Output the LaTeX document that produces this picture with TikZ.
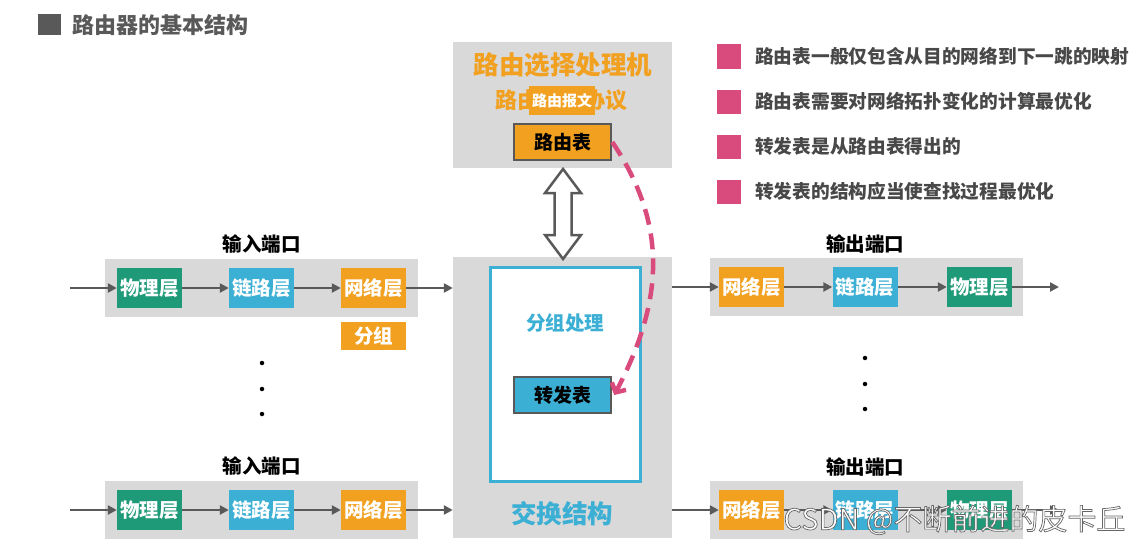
\documentclass[tikz,border=0pt]{standalone}
\usepackage{fontspec}
\setmainfont{Noto Sans CJK SC}
\usetikzlibrary{arrows.meta,positioning}

\definecolor{layergreen}{HTML}{1F9A78}
\definecolor{layercyan}{HTML}{3BAFD4}
\definecolor{layerorange}{HTML}{F2A01F}
\definecolor{boxgray}{HTML}{D9D9D9}
\definecolor{linegray}{HTML}{595959}
\definecolor{notepink}{HTML}{D94B7D}
\definecolor{textgray}{HTML}{484848}

\tikzset{
  portbox/.style={fill=boxgray, minimum width=313pt, minimum height=58pt, inner sep=0pt},
  layer/.style={minimum width=65pt, minimum height=40pt, inner sep=0pt, text=white,
    font=\bfseries\fontsize{19.5}{20}\selectfont},
  phy/.style={layer, fill=layergreen},
  lnk/.style={layer, fill=layercyan},
  net/.style={layer, fill=layerorange},
  flow/.style={draw=linegray, line width=2.5pt, -{Triangle[length=9pt,width=9pt]}},
  portlabel/.style={text=black, font=\bfseries\fontsize{19.5}{20}\selectfont},
  tablebox/.style={draw=linegray, line width=2.5pt, minimum width=97pt, minimum height=36pt,
    inner sep=0pt, text=black, font=\bfseries\fontsize{19}{20}\selectfont},
  note/.style={anchor=west, inner sep=0pt, text=textgray, font=\bfseries\fontsize{18.7}{20}\selectfont},
  bullet/.style={fill=notepink, minimum size=24pt, inner sep=0pt},
  dot/.style={circle, fill=black, inner sep=0pt, minimum size=4.5pt},
}

\begin{document}
\begin{tikzpicture}[x=1pt,y=-1pt]
  \useasboundingbox (0,0) rectangle (1147,543);

  % title
  \node[fill=linegray, minimum width=23pt, minimum height=21pt, inner sep=0pt] (tsq) at (49.5,24.5) {};
  \node[anchor=west, inner sep=0pt, text=linegray, font=\bfseries\fontsize{22}{24}\selectfont] (title) at (72,25) {路由器的基本结构};

  % routing processor
  \node[fill=boxgray, minimum width=219pt, minimum height=126pt, inner sep=0pt] (rp) at (562.5,105) {};
  \node[text=layerorange, font=\bfseries\fontsize{25.5}{26}\selectfont] (rptitle) at (563,65) {路由选择处理机};
  \node[text=layerorange, font=\bfseries\fontsize{22}{24}\selectfont] (proto) at (561.5,100) {路由选择协议};
  \node[fill=layerorange, minimum width=66pt, minimum height=29pt, inner sep=0pt, text=white,
    font=\bfseries\fontsize{15}{16}\selectfont] (msg) at (562,100.5) {路由报文};
  \node[tablebox, fill=layerorange] (rtable) at (562.5,142) {路由表};

  % switch fabric
  \node[fill=boxgray, minimum width=219pt, minimum height=281pt, inner sep=0pt] (sw) at (562.5,397.5) {};
  \node[draw=layercyan, fill=white, line width=2.5pt, minimum width=150pt, minimum height=214pt,
    inner sep=0pt] (proc) at (565.5,374.5) {};
  \node[text=layercyan, font=\bfseries\fontsize{19.5}{20}\selectfont] (proctitle) at (565,323) {分组处理};
  \node[tablebox, fill=layercyan] (ftable) at (562.5,395) {转发表};
  \node[text=layercyan, font=\bfseries\fontsize{25.5}{26}\selectfont] (swtitle) at (562,514) {交换结构};

  % link between processor and fabric
  \draw[draw=linegray, fill=white, line width=2.5pt, line join=miter]
    (563,169) -- (581,193) -- (571.5,193) -- (571.5,235) -- (581,235) -- (563,259)
    -- (545,235) -- (554.5,235) -- (554.5,193) -- (545,193) -- cycle;

  % input ports
  \foreach \r/\y in {1/288,2/510}{
    \node[portbox] (inport\r) at (261.5,\y) {};
    \node[portlabel] (inlabel\r) at (261.5,\y-44) {输入端口};
    \node[phy] (inphy\r) at (149.5,\y) {物理层};
    \node[lnk] (inlnk\r) at (261.5,\y) {链路层};
    \node[net] (innet\r) at (373.5,\y) {网络层};
    \coordinate (insrc\r) at (70,\y);
    \draw[flow] (insrc\r) -- (inphy\r);
    \draw[flow] (inphy\r) -- (inlnk\r);
    \draw[flow] (inlnk\r) -- (innet\r);
    \draw[flow] (innet\r) -- (innet\r -| sw.west);
  }
  \node[net, minimum height=28pt] (pkt) at (373.5,336) {分组};

  % output ports
  \foreach \r/\y in {1/287,2/510}{
    \node[portbox] (outport\r) at (866.5,\y) {};
    \node[portlabel] (outlabel\r) at (865,\y-43) {输出端口};
    \node[net] (outnet\r) at (751.5,\y) {网络层};
    \node[lnk] (outlnk\r) at (865,\y) {链路层};
    \node[phy] (outphy\r) at (979.5,\y) {物理层};
    \coordinate (outdst\r) at (1059,\y);
    \draw[flow] (outnet\r -| sw.east) -- (outnet\r);
    \draw[flow] (outnet\r) -- (outlnk\r);
    \draw[flow] (outlnk\r) -- (outphy\r);
    \draw[flow] (outphy\r) -- (outdst\r);
  }

  % dots
  \foreach \d in {363,389,414} \node[dot] at (262,\d) {};
  \foreach \d in {358,384,409} \node[dot] at (865,\d) {};

  % routing table -> forwarding table
  \draw[notepink, line width=4.5pt, dash pattern=on 16pt off 9pt,
    -{Straight Barb[length=7pt,width=16pt]}]
    (rtable.east) .. controls (668,225) and (664,300) .. ([xshift=2pt]ftable.east);

  % notes
  \foreach \i/\t in {0/路由表一般仅包含从目的网络到下一跳的映射,
                     1/路由表需要对网络拓扑变化的计算最优化,
                     2/转发表是从路由表得出的,
                     3/转发表的结构应当使查找过程最优化}{
    \node[bullet] (bul\i) at (728.5,56.5+45*\i) {};
    \node[note] (note\i) at (755,56.5+45*\i) {\t};
  }

  % watermark
  \node[anchor=west, text=white, font=\fontsize{29}{30}\selectfont] (mark) at (780,520)
    {\special{pdf:code q 0.4 0.4 0.4 RG 0.7 w 2 Tr}CSDN @不断前进的皮卡丘\special{pdf:code Q}};
\end{tikzpicture}
\end{document}
